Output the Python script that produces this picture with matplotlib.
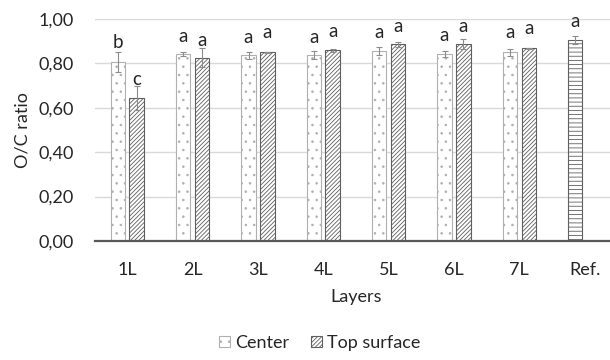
import matplotlib
matplotlib.use('Agg')
import matplotlib.pyplot as plt
import matplotlib.patches as mpatches
import numpy as np
from matplotlib.ticker import FuncFormatter

plt.rcParams['font.family'] = ['Lato', 'DejaVu Sans']
plt.rcParams['hatch.linewidth'] = 0.6

# O/C ratio per layer count, two sampling positions
layers = ['1L', '2L', '3L', '4L', '5L', '6L', '7L']
center = [0.806, 0.841, 0.836, 0.836, 0.854, 0.841, 0.850]
center_err = [0.045, 0.010, 0.015, 0.018, 0.018, 0.013, 0.016]
top = [0.644, 0.826, 0.850, 0.859, 0.886, 0.886, 0.868]
top_err = [0.055, 0.042, 0.003, 0.006, 0.010, 0.023, 0.003]

ref_label = 'Ref.'
ref_value = 0.904
ref_err = 0.018

# significance letters and the height they sit at
center_letters = ['b', 'a', 'a', 'a', 'a', 'a', 'a']
center_letter_y = [0.868, 0.898, 0.893, 0.893, 0.913, 0.902, 0.913]
top_letters = ['c', 'a', 'a', 'a', 'a', 'a', 'a']
top_letter_y = [0.703, 0.880, 0.913, 0.918, 0.943, 0.943, 0.932]
ref_letter = 'a'
ref_letter_y = 0.965

fig = plt.figure(figsize=(6.1, 3.6), dpi=100)
ax = fig.add_axes([0.155, 0.3306, 0.857, 0.6167])

x = np.arange(len(layers))
x_ref = len(layers)
width = 0.22
off = 0.144

err_kw = dict(ecolor='#8c8c8c', elinewidth=0.8, capsize=2.5, capthick=0.8)

ax.bar(x - off, center, width, yerr=center_err, color='white',
       edgecolor='#b0b0b0', linewidth=0.8, hatch='..', error_kw=err_kw,
       zorder=3, label='Center')
ax.bar(x + off, top, width, yerr=top_err, color='white',
       edgecolor='#5f5f5f', linewidth=0.8, hatch='////////', error_kw=err_kw,
       zorder=3, label='Top surface')
ax.bar(x_ref - off, ref_value, width, yerr=ref_err, color='white',
       edgecolor='#5f5f5f', linewidth=0.8, hatch='----', error_kw=err_kw,
       zorder=3)

for xi, lt, ly in zip(x - off, center_letters, center_letter_y):
    ax.text(xi, ly, lt, ha='center', va='baseline', fontsize=13.5, color='#262626')
for xi, lt, ly in zip(x + off, top_letters, top_letter_y):
    ax.text(xi, ly, lt, ha='center', va='baseline', fontsize=13.5, color='#262626')
ax.text(x_ref - off, ref_letter_y, ref_letter, ha='center', va='baseline',
        fontsize=13.5, color='#262626')

ax.set_xlim(-0.5, len(layers) + 0.5)
ax.set_ylim(0, 1.0)
ax.set_xticks(list(x) + [x_ref])
ax.set_xticklabels(layers + [ref_label])
ax.set_yticks(np.arange(0, 1.01, 0.2))
ax.yaxis.set_major_formatter(FuncFormatter(lambda v, p: f'{v:.2f}'.replace('.', ',')))
ax.tick_params(axis='both', length=0, labelsize=13, colors='#262626')
ax.tick_params(axis='y', pad=15)
ax.tick_params(axis='x', pad=15)

ax.grid(axis='y', color='#d9d9d9', linewidth=1.0, zorder=0)
ax.set_axisbelow(True)
for s in ['left', 'right', 'top']:
    ax.spines[s].set_visible(False)
ax.spines['bottom'].set_color('#595959')
ax.spines['bottom'].set_linewidth(1.6)
ax.spines['bottom'].set_zorder(4)

ax.set_xlabel('Layers', fontsize=13, color='#262626', labelpad=8)
ax.set_ylabel('O/C ratio', fontsize=13, color='#262626', labelpad=6)

handles = [
    mpatches.Patch(facecolor='white', edgecolor='#b0b0b0', hatch='..', linewidth=0.8, label='Center'),
    mpatches.Patch(facecolor='white', edgecolor='#5f5f5f', hatch='////////', linewidth=0.8, label='Top surface'),
]
fig.legend(handles=handles, loc='center', bbox_to_anchor=(320 / 610, 1 - 343 / 360),
           ncol=2, frameon=False, fontsize=13, handlelength=0.6, handleheight=0.6,
           handletextpad=0.3, columnspacing=1.2, labelcolor='#262626')

fig.savefig('out.png', dpi=100)
